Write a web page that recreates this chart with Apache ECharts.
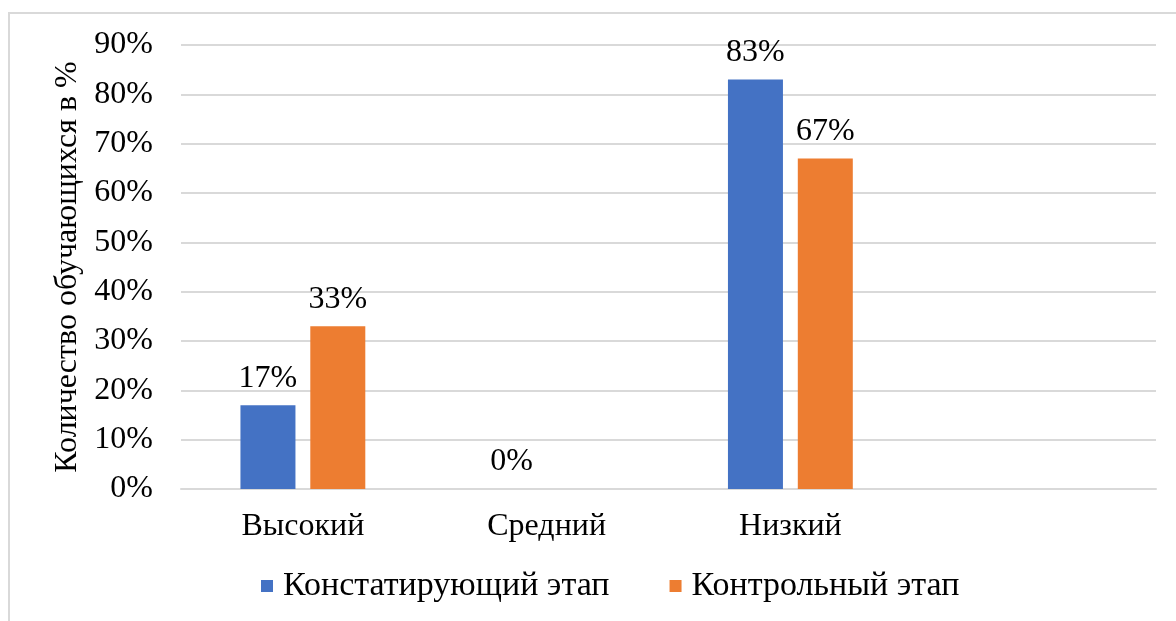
<!DOCTYPE html>
<html>
<head>
<meta charset="utf-8">
<script src="https://cdn.jsdelivr.net/npm/echarts@6/dist/echarts.min.js"></script>
<style>
html,body{margin:0;padding:0;background:#fff;overflow:hidden;}
#frame{position:absolute;left:8px;top:12px;width:1300px;height:800px;border:2px solid #d9d9d9;box-sizing:border-box;}
#chart{position:absolute;left:0;top:0;width:1176px;height:621px;}
</style>
</head>
<body>
<div id="frame"></div>
<div id="chart"></div>
<script>
const categories = ['Высокий', 'Средний', 'Низкий', ''];
const seriesNames = ['Констатирующий этап', 'Контрольный этап'];
const stage1 = [17, 0, 83, null];
const stage2 = [33, null, 67, null];
const yTicks = [0, 90, 10];

const font = '"Liberation Serif", "Times New Roman", serif';
const chart = echarts.init(document.getElementById('chart'), null, {renderer: 'canvas'});
const labelCfg = {
  show: true, position: 'top', distance: 11,
  fontFamily: font, fontSize: 32, color: '#000',
  formatter: p => (p.value == null ? '' : p.value + '%')
};
chart.setOption({
  animation: false,
  backgroundColor: 'transparent',
  color: ['#4472C4', '#ED7D31'],
  grid: {left: 181, right: 20, top: 45, bottom: 132, containLabel: false},
  legend: {
    data: seriesNames, top: 564, left: 256,
    itemWidth: 12, itemHeight: 12, itemGap: 60,
    icon: 'rect',
    textStyle: {fontFamily: font, fontSize: 34, color: '#000', padding: [0, 0, 0, 5]}
  },
  xAxis: {
    type: 'category', data: categories,
    axisLine: {show: true, lineStyle: {color: '#d9d9d9', width: 2}},
    axisTick: {show: false},
    axisLabel: {fontFamily: font, fontSize: 32, color: '#000', margin: 22}
  },
  yAxis: {
    type: 'value', min: yTicks[0], max: yTicks[1], interval: yTicks[2],
    name: 'Количество обучающихся в %', nameLocation: 'middle', nameGap: 97,
    nameTextStyle: {fontFamily: font, fontSize: 32, color: '#000'},
    axisLine: {show: false}, axisTick: {show: false},
    axisLabel: {fontFamily: font, fontSize: 32, color: '#000', margin: 28, formatter: '{value}%'},
    splitLine: {lineStyle: {color: '#d9d9d9', width: 2}}
  },
  series: [
    {name: seriesNames[0], type: 'bar', data: stage1, barWidth: 55, barGap: '27%', label: labelCfg},
    {name: seriesNames[1], type: 'bar', data: stage2, barWidth: 55, barGap: '27%', label: labelCfg}
  ]
});
</script>
</body>
</html>
